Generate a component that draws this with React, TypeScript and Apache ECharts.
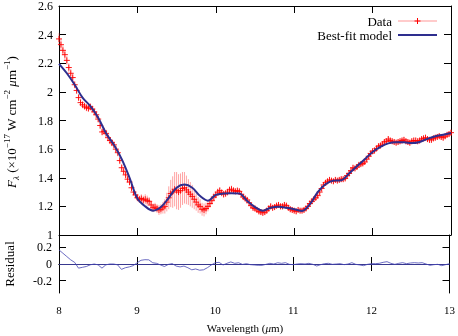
import React, { useEffect, useRef } from "react";
import * as echarts from "echarts";

// Sampling grids (µm)
const WAVE_START = 8;
const DATA_STEP = 0.025;
const MODEL_STEP = 0.1;
const RES_STEP = 0.05;

// Observed flux (×1e-17 W cm^-2 µm^-1), 8.000 … 13.000 µm every 0.025 µm
const fluxData = [
  2.37, 2.33, 2.29, 2.26, 2.22, 2.17, 2.13, 2.10, 2.05, 2.01,
  1.96, 1.925, 1.91, 1.90, 1.89, 1.885, 1.895, 1.88, 1.86, 1.84,
  1.81, 1.765, 1.72, 1.725, 1.71, 1.68, 1.66, 1.645, 1.63, 1.60,
  1.575, 1.52, 1.47, 1.445, 1.42, 1.39, 1.37, 1.33, 1.30, 1.28,
  1.26, 1.25, 1.255, 1.245, 1.25, 1.24, 1.235, 1.21, 1.19, 1.195,
  1.185, 1.175, 1.18, 1.19, 1.20, 1.23, 1.26, 1.29, 1.30, 1.32,
  1.31, 1.30, 1.31, 1.325, 1.33, 1.315, 1.30, 1.285, 1.27, 1.25,
  1.23, 1.21, 1.20, 1.18, 1.175, 1.185, 1.20, 1.22, 1.24, 1.265,
  1.28, 1.30, 1.31, 1.295, 1.285, 1.29, 1.30, 1.315, 1.32, 1.31,
  1.305, 1.31, 1.305, 1.285, 1.265, 1.255, 1.245, 1.225, 1.205, 1.19,
  1.185, 1.175, 1.165, 1.16, 1.155, 1.16, 1.17, 1.185, 1.20, 1.19,
  1.195, 1.205, 1.21, 1.20, 1.20, 1.21, 1.205, 1.19, 1.18, 1.175,
  1.17, 1.165, 1.175, 1.17, 1.17, 1.175, 1.185, 1.20, 1.22, 1.235,
  1.25, 1.26, 1.275, 1.30, 1.325, 1.35, 1.365, 1.375, 1.385, 1.38,
  1.375, 1.385, 1.38, 1.385, 1.39, 1.39, 1.395, 1.415, 1.43, 1.45,
  1.47, 1.465, 1.475, 1.49, 1.495, 1.50, 1.51, 1.53, 1.55, 1.57,
  1.585, 1.59, 1.605, 1.62, 1.625, 1.635, 1.65, 1.655, 1.67, 1.66,
  1.655, 1.65, 1.645, 1.65, 1.655, 1.66, 1.665, 1.655, 1.65, 1.645,
  1.655, 1.66, 1.66, 1.655, 1.66, 1.67, 1.675, 1.68, 1.67, 1.665,
  1.665, 1.675, 1.68, 1.685, 1.69, 1.685, 1.68, 1.69, 1.70, 1.705,
  1.715,
];

// 1-sigma errors of the observed flux (same grid)
const fluxErr = [
  0.04, 0.04, 0.035, 0.035, 0.03, 0.03, 0.03, 0.03, 0.025, 0.025,
  0.025, 0.025, 0.025, 0.025, 0.025, 0.025, 0.025, 0.025, 0.025, 0.025,
  0.025, 0.025, 0.025, 0.025, 0.025, 0.025, 0.025, 0.025, 0.025, 0.025,
  0.025, 0.025, 0.025, 0.025, 0.025, 0.025, 0.025, 0.025, 0.025, 0.025,
  0.025, 0.025, 0.03, 0.03, 0.035, 0.035, 0.03, 0.03, 0.03, 0.03,
  0.03, 0.035, 0.035, 0.04, 0.05, 0.065, 0.08, 0.095, 0.11, 0.12,
  0.13, 0.125, 0.12, 0.115, 0.11, 0.1, 0.09, 0.085, 0.08, 0.07,
  0.06, 0.055, 0.05, 0.045, 0.045, 0.04, 0.035, 0.03, 0.03, 0.03,
  0.025, 0.025, 0.025, 0.025, 0.025, 0.025, 0.025, 0.025, 0.025, 0.025,
  0.02, 0.02, 0.02, 0.02, 0.02, 0.02, 0.02, 0.02, 0.02, 0.02,
  0.02, 0.02, 0.02, 0.02, 0.02, 0.02, 0.02, 0.02, 0.02, 0.02,
  0.02, 0.02, 0.02, 0.02, 0.02, 0.02, 0.02, 0.02, 0.02, 0.02,
  0.018, 0.018, 0.018, 0.018, 0.018, 0.018, 0.018, 0.018, 0.018, 0.018,
  0.018, 0.018, 0.018, 0.018, 0.018, 0.018, 0.018, 0.018, 0.018, 0.018,
  0.018, 0.018, 0.018, 0.018, 0.018, 0.018, 0.018, 0.018, 0.018, 0.018,
  0.018, 0.018, 0.018, 0.018, 0.018, 0.018, 0.018, 0.018, 0.018, 0.018,
  0.02, 0.02, 0.02, 0.02, 0.02, 0.02, 0.02, 0.02, 0.02, 0.02,
  0.02, 0.02, 0.02, 0.02, 0.02, 0.02, 0.02, 0.02, 0.02, 0.02,
  0.02, 0.02, 0.02, 0.02, 0.02, 0.02, 0.02, 0.02, 0.02, 0.02,
  0.02, 0.02, 0.02, 0.02, 0.02, 0.02, 0.02, 0.02, 0.02, 0.02,
  0.02,
];

// Best-fit model, 8.0 … 13.0 µm every 0.1 µm
const modelFlux = [
  2.196, 2.13, 2.05, 1.96, 1.9, 1.82, 1.711, 1.63, 1.53, 1.4,
  1.255, 1.2, 1.17, 1.195, 1.26, 1.33, 1.352, 1.33, 1.272, 1.24,
  1.28, 1.29, 1.292, 1.29, 1.238, 1.195, 1.17, 1.19, 1.197, 1.19,
  1.18, 1.168, 1.215, 1.3, 1.355, 1.38, 1.383, 1.43, 1.48, 1.53,
  1.58, 1.615, 1.64, 1.648, 1.648, 1.642, 1.65, 1.672, 1.69, 1.7,
  1.712,
];

// Residual (data − model), 8.00 … 13.00 µm every 0.05 µm
const residual = [
  0.17, 0.13, 0.09, 0.05, 0.02, -0.05, -0.04, -0.03, -0.01, 0.0,
  -0.01, -0.05, -0.01, 0.0, 0.0, -0.01, -0.065, -0.045, -0.035, -0.02,
  0.015, 0.045, 0.052, 0.05, 0.015, 0.008, -0.012, -0.03, -0.005, 0.005,
  -0.025, -0.035, -0.025, -0.045, -0.07, -0.06, -0.075, -0.07, -0.045, -0.012,
  0.015, 0.02, -0.012, 0.008, 0.025, 0.008, 0.015, -0.005, 0.004, -0.008,
  -0.012, -0.016, -0.016, -0.004, 0.008, 0.0, 0.015, 0.008, 0.016, -0.004,
  -0.008, 0.0, 0.004, 0.0, 0.008, -0.004, -0.024, -0.008, 0.004, 0.008,
  -0.004, 0.0, 0.004, -0.008, 0.0, 0.016, -0.004, -0.012, -0.02, -0.004,
  0.004, 0.004, 0.008, 0.02, 0.028, 0.008, -0.004, 0.008, 0.016, 0.004,
  0.012, 0.016, 0.012, 0.016, 0.0, -0.016, -0.008, -0.004, -0.02, -0.008,
  0.004,
];

const residualTicks = [-0.2, 0, 0.2];

const FONT = "Liberation Serif";
const RED = "#ff0000";
const RED_BAR = "rgba(255,50,50,0.45)";
const BLUE = "#2e2e8e";
const BLUE_RES = "#4646b4";

export default function App() {
  const ref = useRef<HTMLDivElement>(null);

  useEffect(() => {
    if (!ref.current) return;
    const chart = echarts.init(ref.current, null, { renderer: "svg" });

    const dataPts = fluxData.map((y, i) => [
      +(WAVE_START + i * DATA_STEP).toFixed(3),
      y,
      fluxErr[i],
    ]);
    const modelPts = modelFlux.map((y, i) => [
      +(WAVE_START + i * MODEL_STEP).toFixed(2),
      y,
    ]);
    const resPts = residual.map((y, i) => [
      +(WAVE_START + i * RES_STEP).toFixed(2),
      y,
    ]);

    const axisLine = { show: true, lineStyle: { color: "#000", width: 1 } };
    const tick = {
      show: true,
      inside: true,
      length: 7,
      lineStyle: { color: "#000", width: 1 },
    };
    const xBase = {
      type: "value",
      min: 8,
      max: 13,
      interval: 1,
      axisLine,
      axisTick: tick,
      splitLine: { show: false },
      axisLabel: { show: false },
    };

    const option: any = {
      animation: false,
      textStyle: { fontFamily: FONT },
      grid: [
        { left: 59, top: 5, width: 392, height: 230 },
        { left: 59, top: 235, width: 392, height: 58 },
      ],
      xAxis: [
        { ...xBase, gridIndex: 0, position: "bottom" },
        { ...xBase, gridIndex: 0, position: "top" },
        {
          ...xBase,
          gridIndex: 1,
          position: "bottom",
          axisLabel: {
            show: true,
            fontFamily: FONT,
            fontSize: 11,
            color: "#000",
            margin: 11,
          },
        },
        { ...xBase, gridIndex: 1, position: "top" },
      ],
      yAxis: [
        {
          type: "value",
          gridIndex: 0,
          position: "left",
          min: 1,
          max: 2.6,
          interval: 0.2,
          axisLine,
          axisTick: tick,
          splitLine: { show: false },
          axisLabel: {
            fontFamily: FONT,
            fontSize: 12,
            color: "#000",
            margin: 6,
          },
        },
        {
          type: "value",
          gridIndex: 0,
          position: "right",
          min: 1,
          max: 2.6,
          interval: 0.2,
          axisLine,
          axisTick: tick,
          splitLine: { show: false },
          axisLabel: { show: false },
        },
        {
          type: "value",
          gridIndex: 1,
          position: "left",
          min: -0.35,
          max: 0.35,
          axisLine,
          axisTick: { ...tick, customValues: residualTicks },
          splitLine: { show: false },
          axisLabel: {
            customValues: residualTicks,
            fontFamily: FONT,
            fontSize: 12,
            color: "#000",
            margin: 7,
          },
        },
        {
          type: "value",
          gridIndex: 1,
          position: "right",
          min: -0.35,
          max: 0.35,
          axisLine,
          axisTick: { ...tick, customValues: residualTicks },
          splitLine: { show: false },
          axisLabel: { show: false },
        },
      ],
      series: [
        {
          type: "custom",
          name: "errorbars",
          xAxisIndex: 0,
          yAxisIndex: 0,
          z: 2,
          data: dataPts,
          encode: { x: 0, y: 1 },
          renderItem: (params: any, api: any) => {
            const x = api.value(0);
            const y = api.value(1);
            const e = api.value(2);
            const top = api.coord([x, y + e]);
            const bot = api.coord([x, y - e]);
            return {
              type: "line",
              shape: { x1: top[0], y1: top[1], x2: bot[0], y2: bot[1] },
              style: { stroke: RED_BAR, lineWidth: 1 },
            };
          },
        },
        {
          type: "custom",
          name: "Data",
          xAxisIndex: 0,
          yAxisIndex: 0,
          z: 3,
          data: dataPts,
          encode: { x: 0, y: 1 },
          renderItem: (params: any, api: any) => {
            const c = api.coord([api.value(0), api.value(1)]);
            const h = 3;
            return {
              type: "group",
              children: [
                {
                  type: "line",
                  shape: { x1: c[0] - h, y1: c[1], x2: c[0] + h, y2: c[1] },
                  style: { stroke: RED, lineWidth: 0.9 },
                },
                {
                  type: "line",
                  shape: { x1: c[0], y1: c[1] - h, x2: c[0], y2: c[1] + h },
                  style: { stroke: RED, lineWidth: 0.9 },
                },
              ],
            };
          },
        },
        {
          type: "line",
          name: "Best-fit model",
          xAxisIndex: 0,
          yAxisIndex: 0,
          z: 4,
          data: modelPts,
          smooth: 0.35,
          showSymbol: false,
          symbol: "none",
          lineStyle: { color: BLUE, width: 2 },
        },
        {
          type: "line",
          name: "Residual",
          xAxisIndex: 2,
          yAxisIndex: 2,
          z: 4,
          data: resPts,
          showSymbol: false,
          symbol: "none",
          lineStyle: { color: BLUE_RES, width: 0.8 },
          markLine: {
            silent: true,
            symbol: "none",
            label: { show: false },
            lineStyle: { color: BLUE_RES, width: 0.8, type: "solid" },
            data: [{ yAxis: 0 }],
          },
        },
      ],
      graphic: [
        {
          type: "text",
          x: 11,
          y: 122,
          rotation: Math.PI / 2,
          style: {
            text: "{i|F}{sub|λ} (×10{sup|−17} W cm{sup|−2} {i|μ}m{sup|−1})",
            fontFamily: FONT,
            fontSize: 13,
            fill: "#000",
            align: "center",
            verticalAlign: "middle",
            rich: {
              i: { fontFamily: FONT, fontSize: 13, fontStyle: "italic", lineHeight: 18 },
              sub: { fontFamily: FONT, fontSize: 9, fontStyle: "italic", verticalAlign: "bottom", lineHeight: 18 },
              sup: { fontFamily: FONT, fontSize: 9, verticalAlign: "top", lineHeight: 14 },
            },
          },
        },
        {
          type: "text",
          x: 9,
          y: 264,
          rotation: Math.PI / 2,
          style: {
            text: "Residual",
            fontFamily: FONT,
            fontSize: 13,
            fill: "#000",
            align: "center",
            verticalAlign: "middle",
          },
        },
        {
          type: "text",
          x: 245,
          y: 328,
          style: {
            text: "Wavelength ({i|μ}m)",
            fontFamily: FONT,
            fontSize: 11,
            fill: "#000",
            align: "center",
            verticalAlign: "middle",
            rich: { i: { fontFamily: FONT, fontSize: 11, fontStyle: "italic" } },
          },
        },
        {
          type: "text",
          x: 392,
          y: 21,
          style: {
            text: "Data",
            fontFamily: FONT,
            fontSize: 13,
            fill: "#000",
            align: "right",
            verticalAlign: "middle",
          },
        },
        {
          type: "text",
          x: 392,
          y: 35,
          style: {
            text: "Best-fit model",
            fontFamily: FONT,
            fontSize: 13,
            fill: "#000",
            align: "right",
            verticalAlign: "middle",
          },
        },
        {
          type: "line",
          shape: { x1: 398, y1: 21, x2: 437, y2: 21 },
          style: { stroke: "rgba(255,50,50,0.5)", lineWidth: 1 },
        },
        {
          type: "line",
          shape: { x1: 414.5, y1: 21, x2: 420.5, y2: 21 },
          style: { stroke: RED, lineWidth: 1 },
        },
        {
          type: "line",
          shape: { x1: 417.5, y1: 18, x2: 417.5, y2: 24 },
          style: { stroke: RED, lineWidth: 1 },
        },
        {
          type: "line",
          shape: { x1: 398, y1: 35, x2: 437, y2: 35 },
          style: { stroke: BLUE, lineWidth: 2 },
        },
      ],
    };

    chart.setOption(option);
    return () => chart.dispose();
  }, []);

  return (
    <div
      ref={ref}
      style={{ position: "fixed", left: 0, top: 0, width: 458, height: 336 }}
    />
  );
}
